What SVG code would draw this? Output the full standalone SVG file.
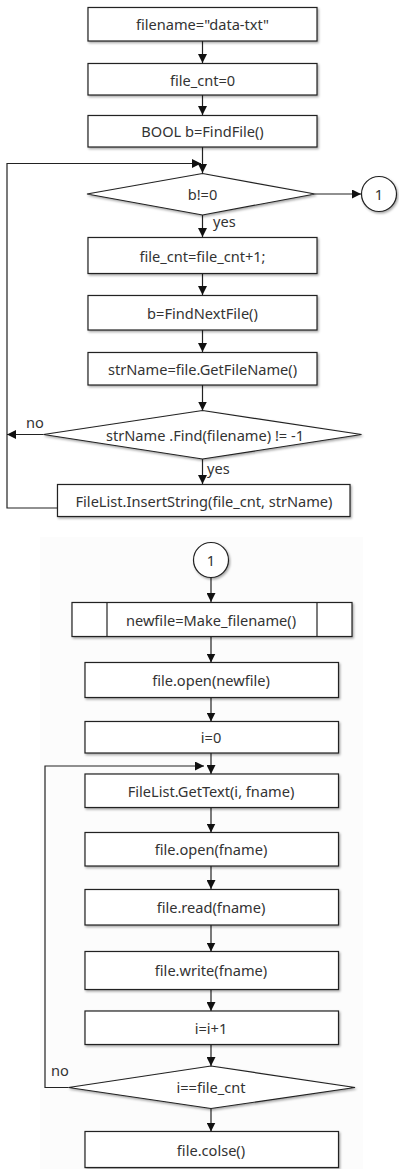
<svg xmlns="http://www.w3.org/2000/svg" width="399" height="1169" viewBox="0 0 399 1169">
  <style>
    .box { fill: #ffffff; stroke: #222222; stroke-width: 1.2; filter: url(#shadow); }
    .ln { fill: none; stroke: #222222; stroke-width: 1.2; }
    .t { font-family: "Noto Sans", "Open Sans", sans-serif; font-size: 14.6px; fill: #333333; text-anchor: middle; dominant-baseline: central; }
    .lbl { font-family: "Noto Sans", "Open Sans", sans-serif; font-size: 14.6px; fill: #333333; dominant-baseline: central; }
  </style>
  <defs>
    <filter id="shadow" x="-10%" y="-20%" width="130%" height="160%">
      <feDropShadow dx="1.2" dy="1.5" stdDeviation="0.9" flood-color="#000000" flood-opacity="0.35"/>
    </filter>
    <marker id="arr" viewBox="0 0 10 10" refX="10" refY="5" markerWidth="9" markerHeight="9" markerUnits="userSpaceOnUse" orient="auto">
      <path d="M0,0 L10,5 L0,10 z" fill="#111111"/>
    </marker>
  </defs>

  <rect x="0" y="0" width="399" height="1169" fill="#ffffff"/>
  <!-- pale backdrop behind the lower chart -->
  <rect x="40" y="537" width="323" height="632" fill="#fcfcfc"/>

  <!-- connectors -->
  <g id="connectors">
    <line class="ln" x1="202.5" y1="41" x2="202.5" y2="63" marker-end="url(#arr)"/>
    <line class="ln" x1="202.5" y1="95" x2="202.5" y2="115" marker-end="url(#arr)"/>
    <line class="ln" x1="202.5" y1="147" x2="202.5" y2="173" marker-end="url(#arr)"/>
    <polyline class="ln" points="57,508 7,508 7,163.5 201,163.5" marker-end="url(#arr)"/>
    <line class="ln" x1="315" y1="194" x2="361" y2="194" marker-end="url(#arr)"/>
    <line class="ln" x1="202.5" y1="215" x2="202.5" y2="237" marker-end="url(#arr)"/>
    <line class="ln" x1="202.5" y1="273.5" x2="202.5" y2="295" marker-end="url(#arr)"/>
    <line class="ln" x1="202.5" y1="330" x2="202.5" y2="352" marker-end="url(#arr)"/>
    <line class="ln" x1="202.5" y1="385" x2="202.5" y2="410.5" marker-end="url(#arr)"/>
    <line class="ln" x1="43.5" y1="434.5" x2="7" y2="434.5" marker-end="url(#arr)"/>
    <line class="ln" x1="202.5" y1="459" x2="202.5" y2="484" marker-end="url(#arr)"/>

    <line class="ln" x1="211" y1="577.5" x2="211" y2="602" marker-end="url(#arr)"/>
    <line class="ln" x1="211" y1="637" x2="211" y2="662.5" marker-end="url(#arr)"/>
    <line class="ln" x1="211" y1="697.5" x2="211" y2="721.5" marker-end="url(#arr)"/>
    <line class="ln" x1="211" y1="753" x2="211" y2="774" marker-end="url(#arr)"/>
    <polyline class="ln" points="68.5,1087.5 45,1087.5 45,766 204,766" marker-end="url(#arr)"/>
    <line class="ln" x1="211" y1="807.5" x2="211" y2="832.5" marker-end="url(#arr)"/>
    <line class="ln" x1="211" y1="866" x2="211" y2="889" marker-end="url(#arr)"/>
    <line class="ln" x1="211" y1="925" x2="211" y2="951.5" marker-end="url(#arr)"/>
    <line class="ln" x1="211" y1="989.5" x2="211" y2="1011" marker-end="url(#arr)"/>
    <line class="ln" x1="211" y1="1044.5" x2="211" y2="1066" marker-end="url(#arr)"/>
    <line class="ln" x1="211" y1="1108.5" x2="211" y2="1131.5" marker-end="url(#arr)"/>

    <text class="lbl" x="213" y="221">yes</text>
    <text class="lbl" x="26" y="421.5">no</text>
    <text class="lbl" x="207" y="467.5">yes</text>
    <text class="lbl" x="51" y="1070">no</text>
  </g>

  <!-- upper chart -->
  <g id="n-filename">
    <rect class="box" x="88" y="7.5" width="229" height="33.5"/>
    <text class="t" x="202.5" y="24">filename="data-txt"</text>
  </g>
  <g id="n-cnt0">
    <rect class="box" x="88" y="63.5" width="229" height="31.5"/>
    <text class="t" x="202.5" y="79.5">file_cnt=0</text>
  </g>
  <g id="n-findfile">
    <rect class="box" x="88" y="115.5" width="229" height="31.5"/>
    <text class="t" x="202.5" y="131">BOOL b=FindFile()</text>
  </g>
  <g id="n-b-check">
    <polygon class="box" points="202.5,173.5 315,194 202.5,215 87,194"/>
    <text class="t" x="202.5" y="194">b!=0</text>
  </g>
  <g id="n-conn-out">
    <circle class="box" cx="379" cy="194" r="17.5"/>
    <text class="t" x="379" y="194">1</text>
  </g>
  <g id="n-cnt-inc">
    <rect class="box" x="88" y="237.5" width="229" height="36"/>
    <text class="t" x="202.5" y="255.5">file_cnt=file_cnt+1;</text>
  </g>
  <g id="n-findnext">
    <rect class="box" x="88" y="295.5" width="229" height="34.5"/>
    <text class="t" x="202.5" y="313">b=FindNextFile()</text>
  </g>
  <g id="n-getname">
    <rect class="box" x="88" y="352.5" width="229" height="32.5"/>
    <text class="t" x="202.5" y="369">strName=file.GetFileName()</text>
  </g>
  <g id="n-find-check">
    <polygon class="box" points="202.5,410.5 361.5,434.5 202.5,459 43.5,434.5"/>
    <text class="t" x="205" y="434.5">strName .Find(filename) != -1</text>
  </g>
  <g id="n-insert">
    <rect class="box" x="57.5" y="484.5" width="292.5" height="32"/>
    <text class="t" x="204" y="500.5">FileList.InsertString(file_cnt, strName)</text>
  </g>

  <!-- lower chart -->
  <g id="n-conn-in">
    <circle class="box" cx="211" cy="560" r="17.5"/>
    <text class="t" x="211" y="560">1</text>
  </g>
  <g id="n-makename">
    <rect class="box" x="72" y="602.5" width="280" height="34"/>
    <line class="ln" x1="107" y1="602.5" x2="107" y2="636.5"/>
    <line class="ln" x1="317" y1="602.5" x2="317" y2="636.5"/>
    <text class="t" x="211" y="619.5">newfile=Make_filename()</text>
  </g>
  <g id="n-open-new">
    <rect class="box" x="85" y="662.5" width="253.5" height="35"/>
    <text class="t" x="211" y="680">file.open(newfile)</text>
  </g>
  <g id="n-i0">
    <rect class="box" x="85" y="721.5" width="253.5" height="31.5"/>
    <text class="t" x="211" y="737">i=0</text>
  </g>
  <g id="n-gettext">
    <rect class="box" x="85" y="774" width="253.5" height="33.5"/>
    <text class="t" x="211" y="790.5">FileList.GetText(i, fname)</text>
  </g>
  <g id="n-open">
    <rect class="box" x="85" y="832.5" width="253.5" height="33.5"/>
    <text class="t" x="211" y="849">file.open(fname)</text>
  </g>
  <g id="n-read">
    <rect class="box" x="85" y="889.5" width="253.5" height="35.5"/>
    <text class="t" x="211" y="907">file.read(fname)</text>
  </g>
  <g id="n-write">
    <rect class="box" x="85" y="951.5" width="253.5" height="38"/>
    <text class="t" x="211" y="970">file.write(fname)</text>
  </g>
  <g id="n-inc">
    <rect class="box" x="85" y="1011" width="253.5" height="33.5"/>
    <text class="t" x="211" y="1027.5">i=i+1</text>
  </g>
  <g id="n-end-check">
    <polygon class="box" points="211,1066 355,1087.5 211,1108.5 68.5,1087.5"/>
    <text class="t" x="211" y="1087">i==file_cnt</text>
  </g>
  <g id="n-close">
    <rect class="box" x="85" y="1131.5" width="253.5" height="36"/>
    <text class="t" x="211" y="1149.5">file.colse()</text>
  </g>
</svg>
